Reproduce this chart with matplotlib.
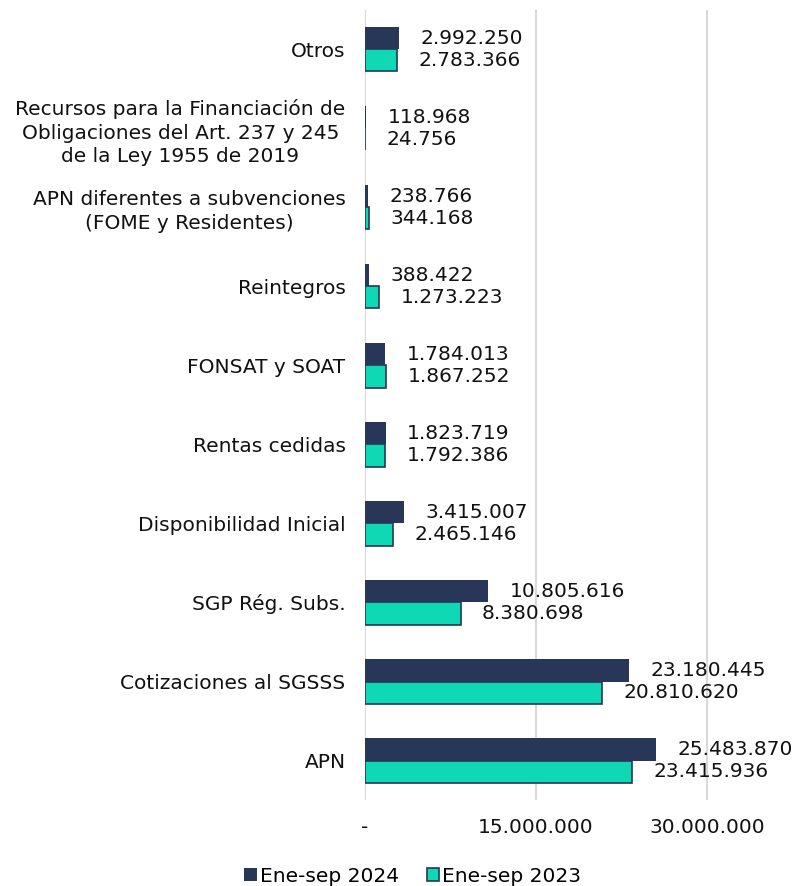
import numpy as np
import matplotlib.pyplot as plt
from matplotlib.ticker import FuncFormatter

# Datos (de abajo hacia arriba)
categorias = ['APN', 'Cotizaciones al SGSSS', 'SGP Rég. Subs.', 'Disponibilidad Inicial',
              'Rentas cedidas', 'FONSAT y SOAT', 'Reintegros',
              'APN diferentes a subvenciones\n(FOME y Residentes)',
              'Recursos para la Financiación de\nObligaciones del Art. 237 y 245\nde la Ley 1955 de 2019',
              'Otros']
v2024 = [25483870, 23180445, 10805616, 3415007, 1823719, 1784013, 388422, 238766, 118968, 2992250]
v2023 = [23415936, 20810620, 8380698, 2465146, 1792386, 1867252, 1273223, 344168, 24756, 2783366]
series = ['Ene-sep 2024', 'Ene-sep 2023']

c_2024 = '#283657'
c_2023 = '#0fd9b4'

def fmt(v):
    return f'{v:,.0f}'.replace(',', '.')

plt.rcParams['font.family'] = ['DejaVu Sans']
fs = 14.5

fig = plt.figure(figsize=(8.03, 8.86), dpi=100)
ax = fig.add_axes([0.4545, 0.097, 0.497, 0.892])

y = np.arange(len(categorias))
h = 0.28
b1 = ax.barh(y + h / 2, v2024, height=h, color=c_2024, label=series[0], zorder=3)
b2 = ax.barh(y - h / 2, v2023, height=h, color=c_2023, edgecolor=c_2024, linewidth=1.2,
             label=series[1], zorder=3)

for bars, vals in ((b1, v2024), (b2, v2023)):
    for bar, v in zip(bars, vals):
        ax.annotate(fmt(v), (v, bar.get_y() + bar.get_height() / 2),
                    xytext=(15.5, 0), textcoords='offset points',
                    ha='left', va='center', fontsize=fs, color='#111111')

ax.set_xlim(0, 35000000)
ax.set_ylim(-0.5, len(categorias) - 0.5)
ax.set_xticks([0, 15000000, 30000000])
ax.xaxis.set_major_formatter(FuncFormatter(lambda v, p: '-' if v == 0 else fmt(v)))
ax.set_yticks(y)
ax.set_yticklabels(categorias, multialignment='center', linespacing=1.3)
ax.tick_params(axis='y', length=0, pad=14, labelsize=fs, labelcolor='#111111')
ax.tick_params(axis='x', length=0, pad=13, labelsize=fs, labelcolor='#111111')
ax.grid(axis='x', color='#d9d9d9', linewidth=1.5, zorder=0)
for s in ax.spines.values():
    s.set_visible(False)

ax.legend(loc='center', bbox_to_anchor=(0.514, 0.011), bbox_transform=fig.transFigure,
          ncol=2, frameon=False, fontsize=fs, handlelength=0.6, handleheight=0.6,
          handletextpad=0.15, columnspacing=1.4, borderaxespad=0)

fig.savefig('out.png', dpi=100)
